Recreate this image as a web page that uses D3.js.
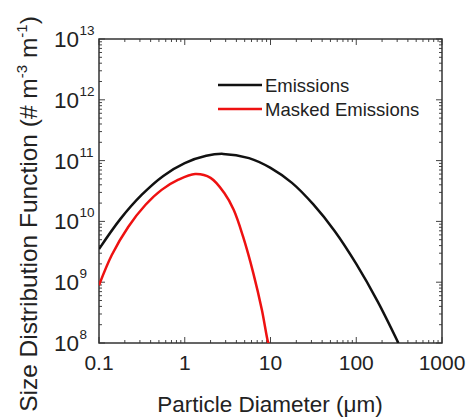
<!DOCTYPE html>
<html><head><meta charset="utf-8">
<script src="https://cdn.jsdelivr.net/npm/d3@7"></script>
<style>body{margin:0;background:#fff}svg{display:block;font-family:Arial,"Liberation Sans",sans-serif}</style>
</head><body><svg id="c" width="472" height="420"></svg>
<script>
// ---- data ----
const emissionsD = [0.1, 0.178, 0.316, 0.562, 1, 1.78, 2.8, 5.62, 10, 17.8, 31.6, 56.2, 100, 178, 310];
const emissionsV = [3.5e9, 1.1e10, 2.75e10, 5.6e10, 9.1e10, 1.2e11, 1.29e11, 1.1e11, 7.6e10, 4.3e10, 1.9e10, 6.9e9, 2.0e9, 4.8e8, 1.0e8];
const maskedD = [0.1, 0.141, 0.219, 0.347, 0.537, 0.832, 1.32, 2.0, 2.88, 3.72, 4.79, 6.31, 7.94, 9.33, 9.6];
const maskedV = [8.9e8, 2.8e9, 8.1e9, 1.86e10, 3.3e10, 4.8e10, 6.0e10, 5.2e10, 2.95e10, 1.55e10, 5.6e9, 1.4e9, 3.5e8, 1.05e8, 0.95e8];
const seriesNames = ["Emissions", "Masked Emissions"];
const seriesColors = ["#111111", "#ee1111"];
const xTicks = [0.1, 1, 10, 100, 1000];
const xTickLabels = ["0.1", "1", "10", "100", "1000"];
const yExponents = [8, 9, 10, 11, 12, 13];
const xTitle = "Particle Diameter (\u03bcm)";

// ---- layout ----
const L = 99, R = 442, T = 39, B = 343;
const svg = d3.select("#c");
const x = d3.scaleLog().domain([0.1, 1000]).range([L, R]);
const y = d3.scaleLog().domain([1e8, 1e13]).range([B, T]);
const ink = "#222";

function minors(lo, hi) {
  const out = [];
  for (let e = Math.round(Math.log10(lo)); e < Math.round(Math.log10(hi)); e++)
    for (let k = 2; k <= 9; k++) out.push(k * Math.pow(10, e));
  return out;
}
const xMin = minors(0.1, 1000), yMin = minors(1e8, 1e13);
const majLen = 6, minLen = 3;
const tg = svg.append("g").attr("stroke", "#444").attr("stroke-width", 1);
xTicks.forEach(v => {
  tg.append("line").attr("x1", x(v)).attr("x2", x(v)).attr("y1", B).attr("y2", B - majLen);
  tg.append("line").attr("x1", x(v)).attr("x2", x(v)).attr("y1", T).attr("y2", T + majLen);
});
xMin.forEach(v => {
  tg.append("line").attr("x1", x(v)).attr("x2", x(v)).attr("y1", B).attr("y2", B - minLen);
  tg.append("line").attr("x1", x(v)).attr("x2", x(v)).attr("y1", T).attr("y2", T + minLen);
});
yExponents.forEach(e => {
  const v = Math.pow(10, e);
  tg.append("line").attr("y1", y(v)).attr("y2", y(v)).attr("x1", L).attr("x2", L + majLen);
  tg.append("line").attr("y1", y(v)).attr("y2", y(v)).attr("x1", R).attr("x2", R - majLen);
});
yMin.forEach(v => {
  tg.append("line").attr("y1", y(v)).attr("y2", y(v)).attr("x1", L).attr("x2", L + minLen);
  tg.append("line").attr("y1", y(v)).attr("y2", y(v)).attr("x1", R).attr("x2", R - minLen);
});

svg.append("rect").attr("x", L).attr("y", T).attr("width", R - L).attr("height", B - T)
  .attr("fill", "none").attr("stroke", "#333").attr("stroke-width", 1.5);

svg.append("defs").append("clipPath").attr("id", "clip")
  .append("rect").attr("x", L).attr("y", T).attr("width", R - L).attr("height", B - T);
const line = d3.line().x(d => x(d[0])).y(d => y(d[1])).curve(d3.curveCatmullRom.alpha(0.5));
const series = [d3.zip(emissionsD, emissionsV), d3.zip(maskedD, maskedV)];
series.forEach((s, i) => {
  svg.append("path").attr("d", line(s)).attr("fill", "none")
    .attr("stroke", seriesColors[i]).attr("stroke-width", 2.5).attr("clip-path", "url(#clip)");
});

svg.append("g").selectAll("text").data(xTicks).join("text")
  .attr("x", d => x(d)).attr("y", 370).attr("text-anchor", "middle")
  .attr("font-size", 21).attr("fill", ink)
  .text((d, i) => xTickLabels[i]);

const yl = svg.append("g").attr("fill", ink);
yExponents.forEach(e => {
  const yy = y(Math.pow(10, e));
  yl.append("text").attr("x", 79).attr("y", yy + 8).attr("text-anchor", "end")
    .attr("font-size", 22.5).text("10");
  yl.append("text").attr("x", 79.5).attr("y", yy - 4).attr("font-size", 13.5).text(String(e));
});

svg.append("text").attr("x", 270).attr("y", 412).attr("text-anchor", "middle")
  .attr("font-size", 22.5).attr("fill", ink).text(xTitle);

const yt = svg.append("text").attr("transform", "translate(37,214) rotate(-90)")
  .attr("text-anchor", "middle").attr("font-size", 24.5).attr("fill", ink);
yt.append("tspan").text("Size Distribution Function (# m");
yt.append("tspan").attr("font-size", 15).attr("dy", -10).text("-3");
yt.append("tspan").attr("dy", 10).text(" m");
yt.append("tspan").attr("font-size", 15).attr("dy", -10).text("-1");
yt.append("tspan").attr("dy", 10).text(")");

const lg = svg.append("g");
seriesNames.forEach((n, i) => {
  const ly = 85 + i * 24;
  lg.append("line").attr("x1", 218).attr("x2", 262).attr("y1", ly).attr("y2", ly)
    .attr("stroke", seriesColors[i]).attr("stroke-width", 2.5);
  lg.append("text").attr("x", 265).attr("y", ly + 6.5).attr("font-size", 18.5).attr("fill", ink).text(n);
});
</script></body></html>
